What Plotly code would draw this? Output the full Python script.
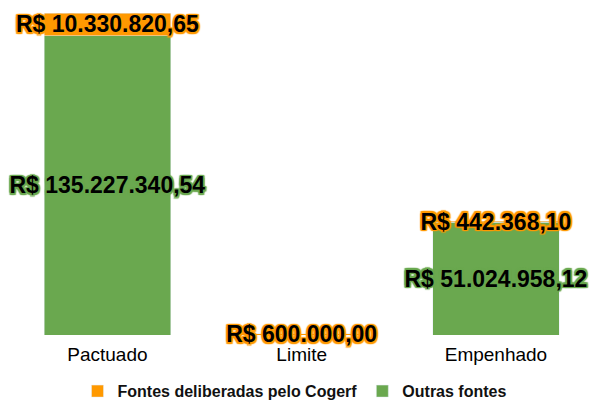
import plotly.graph_objects as go

categories = ["Pactuado", "Limite", "Empenhado"]
cogerf = [10330820.65, 600000.00, 442368.10]
outras = [135227340.54, 0.0, 51024958.12]
series_names = ["Fontes deliberadas pelo Cogerf", "Outras fontes"]

ORANGE = "#FF9900"
GREEN = "#6AA84F"
FONT = "Liberation Sans, Arial, sans-serif"


def brl(v):
    if v == 0:
        return ""
    s = f"{v:,.2f}"
    s = s.replace(",", "X").replace(".", ",").replace("X", ".")
    return "R$ " + s


def outline(color, w=1.5):
    offs = []
    for dx, dy in [(w, 0), (-w, 0), (0, w), (0, -w), (w, w), (-w, -w), (w, -w), (-w, w)]:
        offs.append(f"{dx}px {dy}px 1px {color}")
    return ", ".join(offs)


fig = go.Figure()
fig.add_trace(go.Bar(
    x=categories, y=outras, name=series_names[1], marker_color=GREEN,
    text=[brl(v) for v in outras], textposition="inside", insidetextanchor="middle",
    constraintext="none", textangle=0, cliponaxis=False, legendrank=2,
    textfont=dict(family=FONT, size=23, color="black",
                  weight="bold", shadow=outline(GREEN)),
    width=0.65, hoverinfo="skip",
))
fig.add_trace(go.Bar(
    x=categories, y=cogerf, name=series_names[0], marker_color=ORANGE,
    text=[brl(v) for v in cogerf], textposition="inside", insidetextanchor="middle",
    constraintext="none", textangle=0, cliponaxis=False, legendrank=1,
    textfont=dict(family=FONT, size=23, color="black",
                  weight="bold", shadow=outline(ORANGE)),
    width=0.65, hoverinfo="skip",
))

fig.update_layout(
    barmode="stack",
    width=589, height=400,
    margin=dict(l=0, r=0, t=0, b=65, autoexpand=False),
    paper_bgcolor="white", plot_bgcolor="white",
    font=dict(family=FONT, color="#111111"),
    xaxis=dict(range=[-0.553, 2.479], showgrid=False, showline=False, zeroline=False,
               ticks="", automargin=False, ticklabelstandoff=6,
               tickfont=dict(size=19, color="#000000")),
    yaxis=dict(range=[0, 151.45e6], visible=False),
    legend=dict(orientation="h", x=0.5, xanchor="center", xref="container",
                y=0.022, yanchor="middle", yref="container", traceorder="normal",
                font=dict(size=16, weight="bold", color="#111111")),
    showlegend=True,
)

fig.write_html("out.html", config={"displayModeBar": False},
               post_script="document.body.style.margin='0';")
